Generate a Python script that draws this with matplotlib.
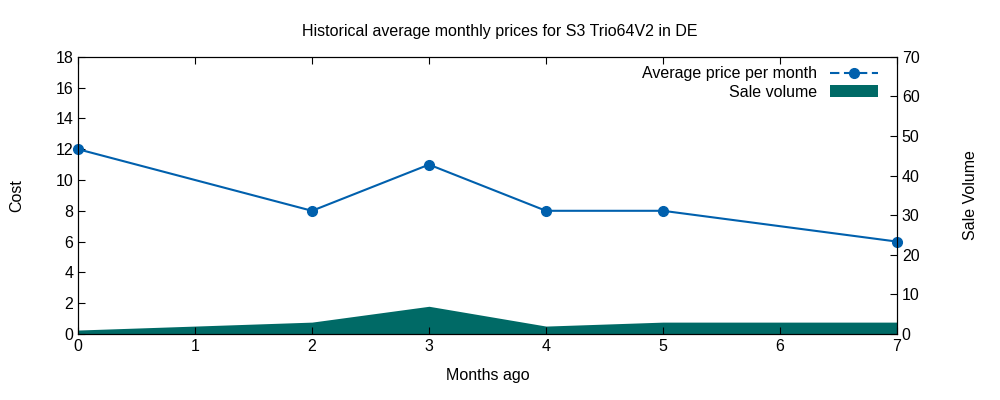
import matplotlib
matplotlib.use("Agg")
import matplotlib.pyplot as plt
from matplotlib.lines import Line2D

months = [0, 2, 3, 4, 5, 7]
price = [12, 8, 11, 8, 8, 6]
volume = [1, 3, 7, 2, 3, 3]

plt.rcParams['font.family'] = ['Liberation Sans', 'DejaVu Sans']
plt.rcParams['font.size'] = 11.5

fig = plt.figure(figsize=(10, 4), dpi=100)
ax = fig.add_axes([0.078, 0.165, 0.819, 0.693])
ax2 = ax.twinx()

ax2.fill_between(months, volume, 0, color='#006a66', lw=0, label='Sale volume')
ax.plot(months, price, color='#0060ad', lw=1.5, marker='o', ms=7, clip_on=False,
        label='Average price per month')
ax.set_zorder(ax2.get_zorder() + 1)
ax.patch.set_visible(False)

ax.set_xlim(0, 7)
ax.set_ylim(0, 18)
ax.set_yticks(range(0, 19, 2))
ax2.set_ylim(0, 70)
ax2.set_yticks(range(0, 71, 10))
ax.tick_params(direction='in', top=True, length=5, labelsize=11.5)
ax2.tick_params(direction='in', length=5, labelsize=11.5)

ax.set_xlabel('Months ago', labelpad=10)
ax.set_ylabel('Cost', labelpad=22)
ax2.set_ylabel('Sale Volume', labelpad=31)
fig.suptitle('Historical average monthly prices for S3 Trio64V2 in DE', y=0.94, fontsize=11.5)

price_handle = (Line2D([], [], color='#0060ad', lw=1.5, ls=(0, (4.5, 2.2))),
                Line2D([], [], color='#0060ad', ls='', marker='o', ms=7))
h2, l2 = ax2.get_legend_handles_labels()
ax.legend([price_handle] + h2, ['Average price per month'] + l2, loc='upper right',
          bbox_to_anchor=(0.988, 1.0), frameon=False, markerfirst=False,
          handlelength=3, borderaxespad=0.2, labelspacing=0.2)

fig.savefig('out.png')
